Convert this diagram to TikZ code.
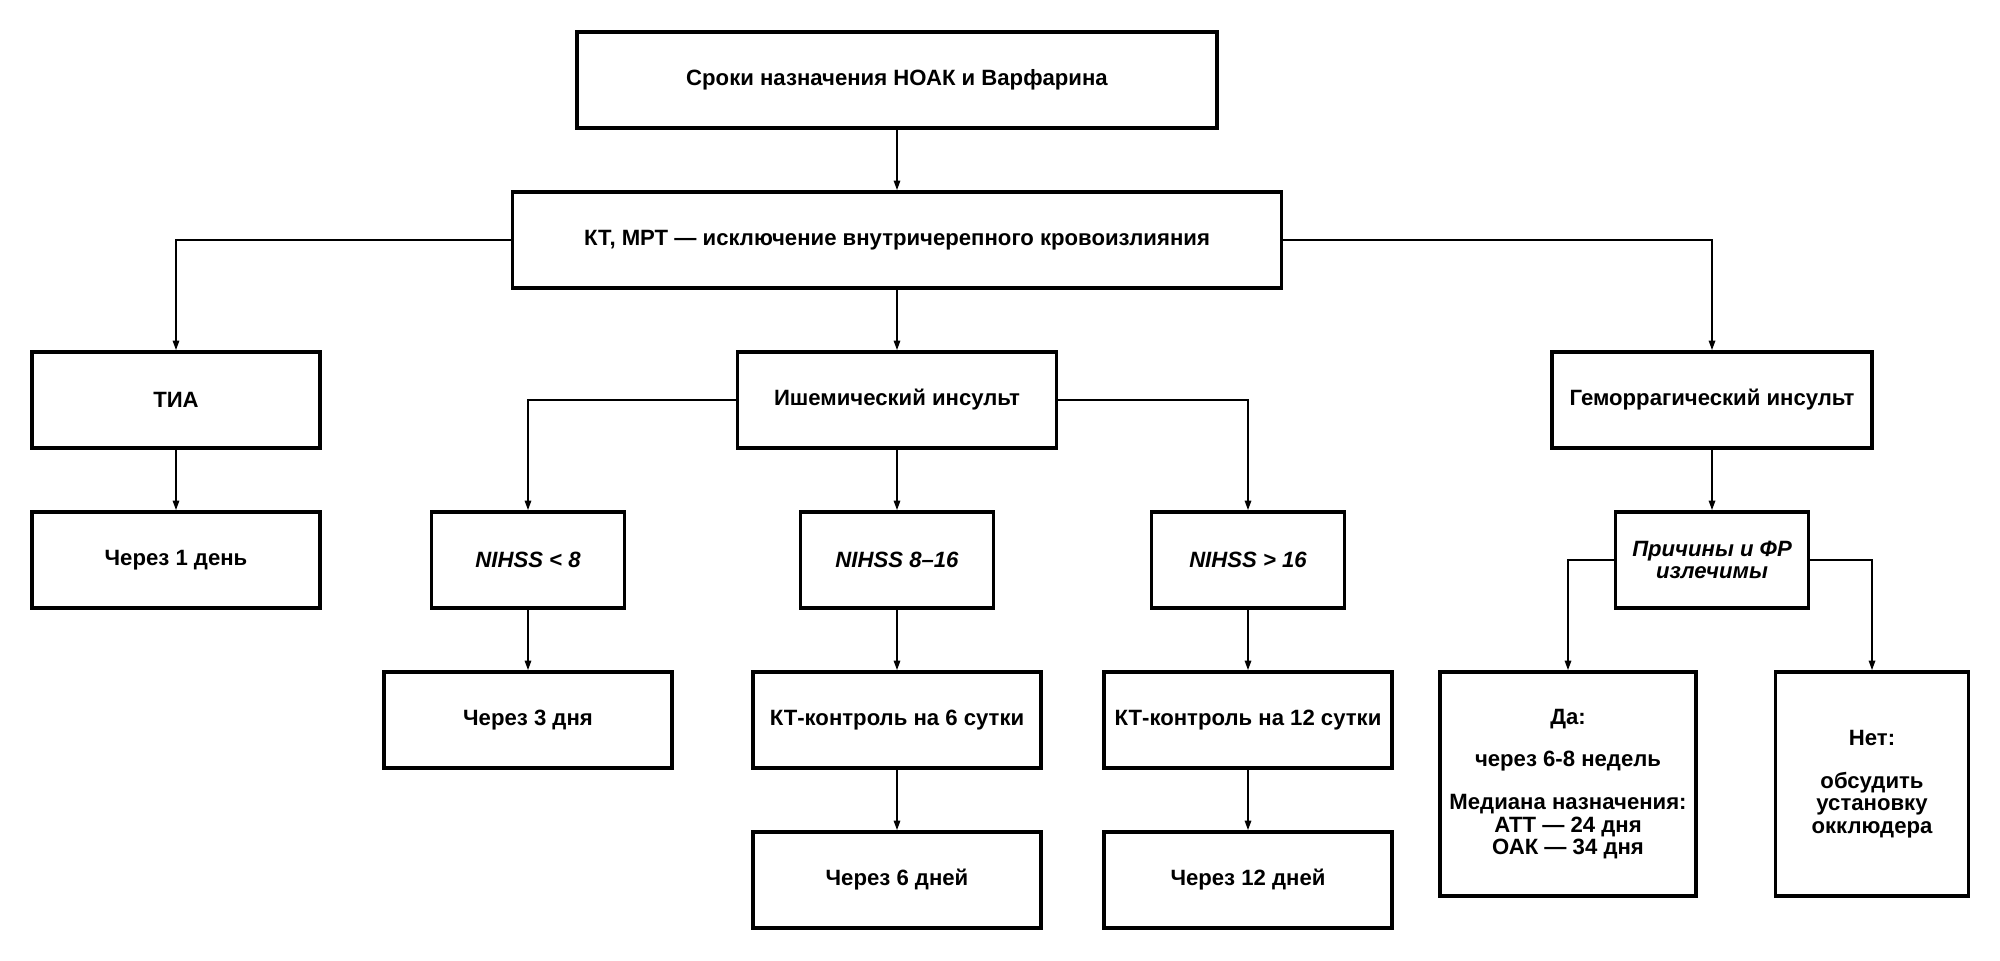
\documentclass[tikz,border=0pt]{standalone}
\usepackage{fontspec}
\setmainfont{Liberation Sans}
\usetikzlibrary{arrows.meta}

\begin{document}
\begin{tikzpicture}[
		    x=0.02cm, y=-0.02cm,
		    every node/.style={draw, rectangle, line width=2pt, align=center, minimum height=1.92cm,
		        inner sep=2pt, font=\bfseries\fontsize{12.6}{12.8}\selectfont},
		    link/.style={line width=1.1pt, -{Triangle[width=3.6pt,length=5.5pt]}}
		]
		    \useasboundingbox (0,0) rectangle (2000,960);

		    \node[minimum width=12.8cm] (title) at (897,80) {Сроки назначения НОАК и Варфарина};
		    \node[minimum width=15.38cm] (kt) at (897,240) {КТ, МРТ — исключение внутричерепного кровоизлияния};

		    \node[minimum width=5.76cm] (tia) at (176,400) {ТИА};
		    \node[minimum width=6.38cm] (isch) at (897,400) {Ишемический инсульт};
		    \node[minimum width=6.4cm] (hem) at (1712,400) {Геморрагический инсульт};

		    \node[minimum width=5.76cm] (day1) at (176,560) {Через 1 день};
		    \node[minimum width=3.86cm] (nihss1) at (528,560) {\itshape NIHSS < 8};
		    \node[minimum width=3.86cm] (nihss2) at (897,560) {\itshape NIHSS 8–16};
		    \node[minimum width=3.86cm] (nihss3) at (1248,560) {\itshape NIHSS > 16};
		    \node[minimum width=3.86cm] (cause) at (1712,560) {\itshape Причины и ФР\\\itshape излечимы};

		    \node[minimum width=5.76cm] (day3) at (528,720) {Через 3 дня};
		    \node[minimum width=5.76cm] (ct6) at (897,720) {КТ-контроль на 6 сутки};
		    \node[minimum width=5.76cm] (ct12) at (1248,720) {КТ-контроль на 12 сутки};
		    \node[minimum width=5.12cm, minimum height=4.48cm] (yes) at (1568,784)
		        {Да:\\[11.6pt]через 6-8 недель\\[11.6pt]Медиана назначения:\\АТТ — 24 дня\\ОАК — 34 дня};
		    \node[minimum width=3.86cm, minimum height=4.48cm] (no) at (1872,784)
		        {Нет:\\[11.6pt]обсудить\\установку\\окклюдера};

		    \node[minimum width=5.76cm] (day6) at (897,880) {Через 6 дней};
		    \node[minimum width=5.76cm] (day12) at (1248,880) {Через 12 дней};

		    \foreach \a/\b in {title/kt, kt/isch, tia/day1, isch/nihss2, hem/cause,
		        nihss1/day3, nihss2/ct6, nihss3/ct12, ct6/day6, ct12/day12} {
			\draw[link] (\a) -- (\b);
		    }

		    \draw[link] (kt.west) -| (tia);
		    \draw[link] (kt.east) -| (hem);
		    \draw[link] (isch.west) -| (nihss1);
		    \draw[link] (isch.east) -| (nihss3);
		    \draw[link] (cause.west) -| (yes);
		    \draw[link] (cause.east) -| (no);
		\end{tikzpicture}
\end{document}
